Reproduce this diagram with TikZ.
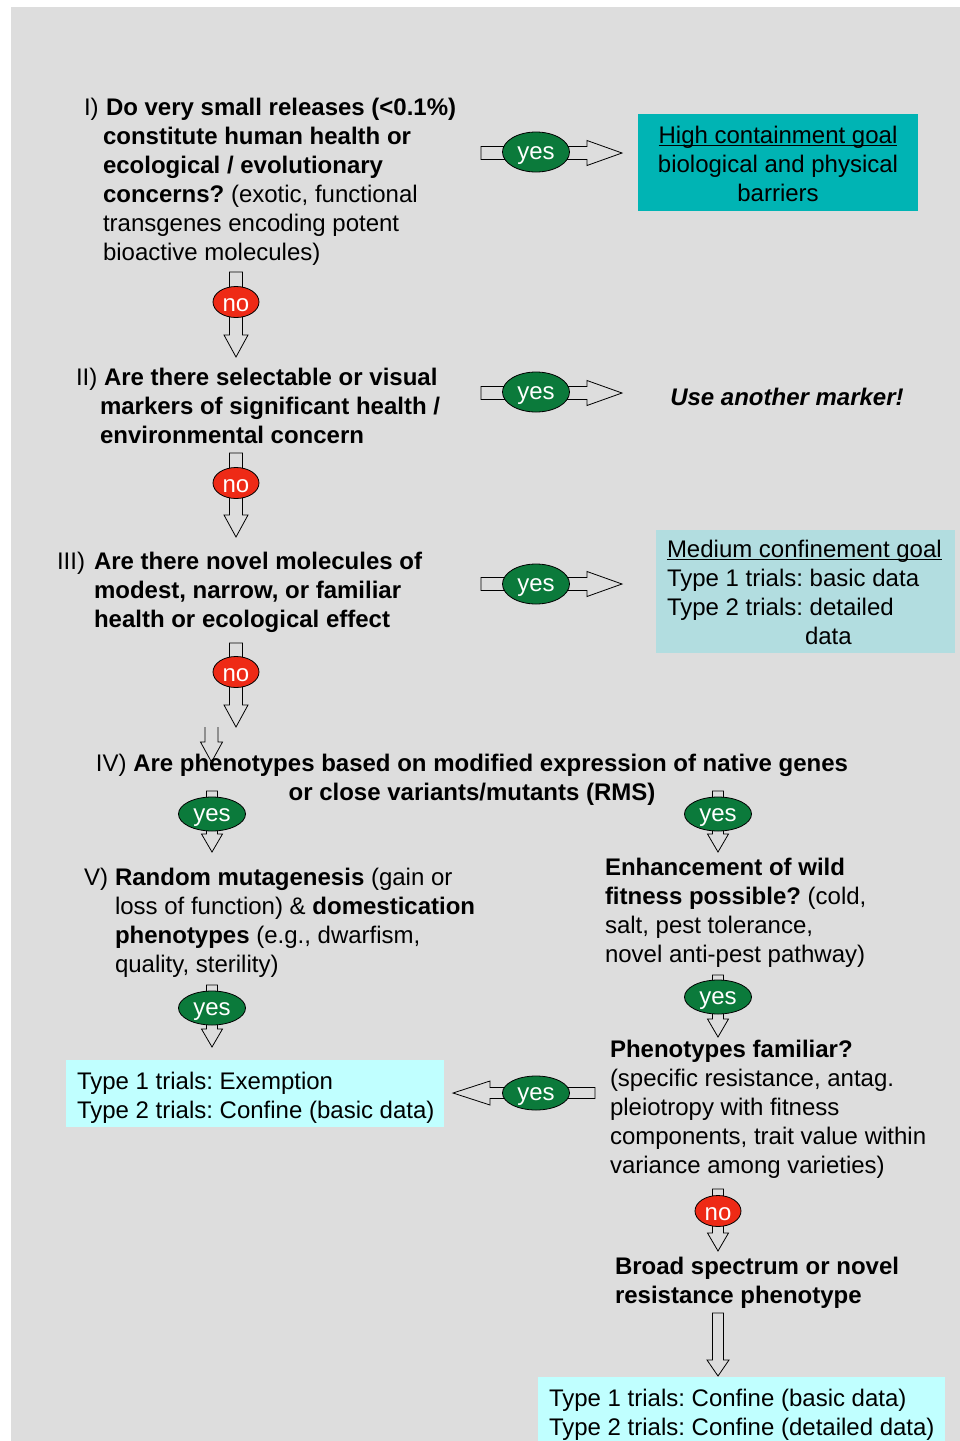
\documentclass[tikz,border=0pt]{standalone}
\usepackage{fontspec}
\setmainfont{Liberation Sans}
\usetikzlibrary{calc,shapes.geometric}
\frenchspacing
\definecolor{bggray}{HTML}{DDDDDD}
\definecolor{yesgreen}{HTML}{0B7A3B}
\definecolor{nored}{HTML}{EE2A16}
\definecolor{tealbox}{HTML}{00B4B4}
\definecolor{medbox}{HTML}{B2DDE0}
\definecolor{cyanbox}{HTML}{C0FFFF}
\newcommand\myul[1]{\setbox0=\hbox{#1}\rlap{\rule[-3pt]{\wd0}{1.4pt}}\box0}
% vertical block arrow: start, tip, head length, shaft half width, head half width
\newcommand\barV[5]{\draw[barrow] let \p1=(#1), \p2=(#2) in (\x1-#4pt,\y1) -- (\x1+#4pt,\y1) -- (\x1+#4pt,\y2+#3pt) -- (\x1+#5pt,\y2+#3pt) -- (\x1,\y2) -- (\x1-#5pt,\y2+#3pt) -- (\x1-#4pt,\y2+#3pt) -- cycle;}
\newcommand\barR[5]{\draw[barrow] let \p1=(#1), \p2=(#2) in (\x1,\y1+#4pt) -- (\x2-#3pt,\y1+#4pt) -- (\x2-#3pt,\y1+#5pt) -- (\x2,\y1) -- (\x2-#3pt,\y1-#5pt) -- (\x2-#3pt,\y1-#4pt) -- (\x1,\y1-#4pt) -- cycle;}
\newcommand\barL[5]{\draw[barrow] let \p1=(#1), \p2=(#2) in (\x1,\y1+#4pt) -- (\x2+#3pt,\y1+#4pt) -- (\x2+#3pt,\y1+#5pt) -- (\x2,\y1) -- (\x2+#3pt,\y1-#5pt) -- (\x2+#3pt,\y1-#4pt) -- (\x1,\y1-#4pt) -- cycle;}
\begin{document}
\begin{tikzpicture}[x=1pt,y=-1pt,
  barrow/.style={draw=black, fill=bggray, line width=0.8pt, line join=miter},
  txt/.style={inner sep=0pt, outer sep=0pt, font=\fontsize{24}{29}\selectfont},
  yesH/.style={ellipse, draw=black, line width=0.8pt, fill=yesgreen, text=white, minimum width=67pt, minimum height=40pt, inner sep=0pt, text height=15pt, text depth=0pt, font=\fontsize{24}{29}\selectfont},
  yesV/.style={yesH, minimum height=34pt},
  noE/.style={ellipse, draw=black, line width=0.8pt, fill=nored, text=white, minimum width=46pt, minimum height=31pt, inner sep=0pt, text height=19pt, text depth=0pt, font=\fontsize{24}{29}\selectfont}
]
\useasboundingbox (0,0) rectangle (960,1441);
\fill[white] (0,0) rectangle (960,1441);
\fill[bggray] (11,7) rectangle (960,1441);

% boxes
\fill[tealbox] (638,114) rectangle (918,211);
\fill[medbox] (656,530) rectangle (955,653);
\fill[cyanbox] (66,1060) rectangle (444,1127);
\fill[cyanbox] (538,1377) rectangle (945,1441);

% coordinates for block arrows
\coordinate (y1s) at (481,153); \coordinate (y1t) at (622,153);
\coordinate (y2s) at (481,393); \coordinate (y2t) at (622,393);
\coordinate (y3s) at (481,584); \coordinate (y3t) at (622,584);
\coordinate (n1s) at (236,272); \coordinate (n1t) at (236,357);
\coordinate (n2s) at (236,453); \coordinate (n2t) at (236,537);
\coordinate (n3s) at (236,643); \coordinate (n3t) at (236,727);
\coordinate (o1s) at (211.5,727); \coordinate (o1t) at (211.5,762);
\coordinate (v1s) at (212,791); \coordinate (v1t) at (212,852);
\coordinate (v2s) at (718,791); \coordinate (v2t) at (718,852);
\coordinate (v3s) at (212,985); \coordinate (v3t) at (212,1047);
\coordinate (v4s) at (718,975); \coordinate (v4t) at (718,1037);
\coordinate (lys) at (595,1093); \coordinate (lyt) at (453,1093);
\coordinate (n4s) at (718,1189); \coordinate (n4t) at (718,1251);
\coordinate (fs) at (718,1313); \coordinate (ft) at (718,1376);

\barR{y1s}{y1t}{35}{6.5}{12.5}
\barR{y2s}{y2t}{35}{6.5}{12.5}
\barR{y3s}{y3t}{35}{6.5}{12.5}
\barV{n1s}{n1t}{22}{6.5}{12}
\barV{n2s}{n2t}{22}{6.5}{12}
\barV{n3s}{n3t}{22}{6.5}{12}
\draw[barrow, fill=none] let \p1=(o1s), \p2=(o1t) in (\x1-6.5pt,\y1) -- (\x1-6.5pt,\y2+20pt) -- (\x1-11pt,\y2+20pt) -- (\x1,\y2) -- (\x1+11pt,\y2+20pt) -- (\x1+6.5pt,\y2+20pt) -- (\x1+6.5pt,\y1);
\barV{v1s}{v1t}{18}{5.5}{10.5}
\barV{v2s}{v2t}{18}{5.5}{10.5}
\barV{v3s}{v3t}{18}{5.5}{10.5}
\barV{v4s}{v4t}{18}{5.5}{10.5}
\barL{lys}{lyt}{37}{5.5}{12}
\barV{n4s}{n4t}{18}{5.5}{10.5}
\barV{fs}{ft}{16}{5.5}{11}

% ellipses
\node[yesH] (e1) at (536,152) {yes};
\node[yesH] (e2) at (536,392) {yes};
\node[yesH] (e3) at (536,584) {yes};
\node[noE] (no1) at (236,302) {no};
\node[noE] (no2) at (236,483) {no};
\node[noE] (no3) at (236,672) {no};
\node[yesV] (e4) at (212,814) {yes};
\node[yesV] (e5) at (718,814) {yes};
\node[yesV] (e6) at (212,1008) {yes};
\node[yesV] (e7) at (718,997) {yes};
\node[yesV] (e8) at (536,1093) {yes};
\node[noE] (no4) at (718,1211) {no};

% texts
\node[txt, anchor=base west] (q1) at (84,115) {\makebox[19pt][l]{I)}\begin{tabular}[t]{@{}l@{}}\hspace{3pt}\textbf{Do very small releases (<0.1\%)}\\\textbf{constitute human health or}\\\textbf{ecological / evolutionary}\\\textbf{concerns?} (exotic, functional\\transgenes encoding potent\\bioactive molecules)\end{tabular}};
\node[txt, anchor=base west] (q2) at (76,385) {\makebox[24pt][l]{II)}\begin{tabular}[t]{@{}l@{}}\hspace{4pt}\textbf{Are there selectable or visual}\\\textbf{markers of significant health /}\\\textbf{environmental concern}\end{tabular}};
\node[txt, anchor=base west] (q3) at (57,569) {\makebox[37pt][l]{III)}\begin{tabular}[t]{@{}l@{}}\textbf{Are there novel molecules of}\\\textbf{modest, narrow, or familiar}\\\textbf{health or ecological effect}\end{tabular}};
\node[txt, anchor=base] (q4) at (472,771) {\begin{tabular}[t]{@{}c@{}}IV) \textbf{Are phenotypes based on modified expression of native genes}\\\textbf{or close variants/mutants (RMS)}\end{tabular}};
\node[txt, anchor=base west] (q5) at (84,885) {\makebox[31pt][l]{V)}\begin{tabular}[t]{@{}l@{}}\textbf{Random mutagenesis} (gain or\\loss of function) \& \textbf{domestication}\\\textbf{phenotypes} (e.g., dwarfism,\\quality, sterility)\end{tabular}};
\node[txt, anchor=base west] (q6) at (605,875) {\begin{tabular}[t]{@{}l@{}}\textbf{Enhancement of wild}\\\textbf{fitness possible?} (cold,\\salt, pest tolerance,\\novel anti-pest pathway)\end{tabular}};
\node[txt, anchor=base west] (q7) at (610,1057) {\begin{tabular}[t]{@{}l@{}}\textbf{Phenotypes familiar?}\\(specific resistance, antag.\\pleiotropy with fitness\\components, trait value within\\variance among varieties)\end{tabular}};
\node[txt, anchor=base west] (q8) at (615,1274) {\begin{tabular}[t]{@{}l@{}}\textbf{Broad spectrum or novel}\\\textbf{resistance phenotype}\end{tabular}};

\node[txt, anchor=base] (r1) at (778,143) {\begin{tabular}[t]{@{}c@{}}\myul{High containment goal}\\biological and physical\\barriers\end{tabular}};
\node[txt, anchor=base] (r2) at (787,405) {\textbf{\textit{Use another marker!}}};
\node[txt, anchor=base west] (r3) at (667,557) {\begin{tabular}[t]{@{}l@{}}\myul{Medium confinement goal}\\Type 1 trials: basic data\\Type 2 trials: detailed\\\hspace{138pt}data\end{tabular}};
\node[txt, anchor=base west] (r4) at (77,1089) {\begin{tabular}[t]{@{}l@{}}Type 1 trials: Exemption\\Type 2 trials: Confine (basic data)\end{tabular}};
\node[txt, anchor=base west] (r5) at (549,1406) {\begin{tabular}[t]{@{}l@{}}Type 1 trials: Confine (basic data)\\Type 2 trials: Confine (detailed data)\end{tabular}};
\end{tikzpicture}
\end{document}
